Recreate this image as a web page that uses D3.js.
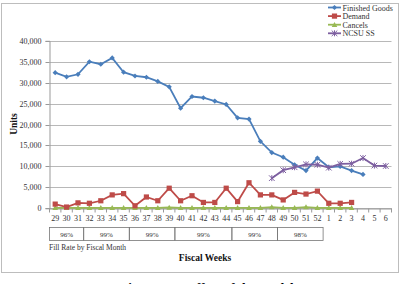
<!DOCTYPE html>
<html><head><meta charset="utf-8">
<script src="https://cdn.jsdelivr.net/npm/d3@7"></script>
<style>
body{margin:0;background:#fff;overflow:hidden}
text{font-family:"Liberation Serif","Times New Roman",serif}
</style></head>
<body><svg id="c" width="401" height="284"></svg>
<script>
const weeks = ["29","30","31","32","33","34","35","36","37","38","39","40","41","42","43","44","45","46","47","48","49","50","51","52","1","2","3","4","5","6"];
const finishedGoods = [32400,31400,32000,35000,34400,35900,32500,31600,31300,30300,29000,23900,26700,26400,25600,24800,21600,21300,16000,13300,12200,10400,9000,12000,9800,10000,9000,8100,null,null];
const demand = [1000,300,1300,1200,1800,3200,3500,600,2700,1800,4800,1800,3000,1400,1400,4800,1600,6100,3200,3200,2000,3800,3400,4100,1200,1200,1400,null,null,null];
const cancels = [100,100,100,100,100,100,100,100,100,100,200,100,100,100,100,100,100,100,100,300,100,100,300,100,100,100,100,null,null,null];
const ncsuSS = [null,null,null,null,null,null,null,null,null,null,null,null,null,null,null,null,null,null,null,7200,9100,9800,10500,10400,9700,10600,10650,12000,10200,10100];
const yTicks = [0,5000,10000,15000,20000,25000,30000,35000,40000];
const fillMonths = [{start:"29",end:"31",rate:"96%"},{start:"32",end:"35",rate:"99%"},{start:"36",end:"39",rate:"99%"},{start:"40",end:"44",rate:"99%"},{start:"45",end:"48",rate:"99%"},{start:"49",end:"52",rate:"98%"}];
const seriesNames = ["Finished Goods","Demand","Cancels","NCSU SS"];
const seriesColors = ["#4A7EBB","#BE4B48","#98B954","#7D5FA0"];

const svg = d3.select("#c");
svg.append("rect").attr("x",1.5).attr("y",3.5).attr("width",397).attr("height",269).attr("fill","#fff").attr("stroke","#bdbdbd").attr("stroke-width",1);

const x = d3.scaleBand().domain(weeks).range([49.5,391.5]);
const y = d3.scaleLinear().domain([0,40000]).range([208.3,40.8]);

// gridlines
svg.append("g").selectAll("line").data(yTicks).join("line")
  .attr("x1",49.5).attr("x2",391.5).attr("y1",d=>Math.round(y(d))+0.5).attr("y2",d=>Math.round(y(d))+0.5)
  .attr("stroke","#a6a6a6").attr("stroke-width",0.8);

// y axis
const ya = svg.append("g").attr("transform","translate(49.5,0)")
  .call(d3.axisLeft(y).tickValues(yTicks).tickFormat(d3.format(",")).tickSize(4).tickPadding(4));
ya.selectAll("text").attr("font-size",8).attr("fill","#333").style("font-family","Liberation Serif");
ya.selectAll("line,path").attr("stroke","#999");
ya.selectAll(".tick").attr("transform",d=>`translate(0,${Math.round(y(d))+0.5})`);

// x axis
const xa = svg.append("g").attr("transform",`translate(0,${Math.round(y(0))+0.5})`)
  .call(d3.axisBottom(x).tickSize(0).tickPadding(7));
xa.selectAll("text").attr("font-size",8).attr("fill","#333").style("font-family","Liberation Serif");
xa.selectAll("path").attr("stroke","#999");
// tick marks between categories
xa.selectAll("line.sep").data(weeks.concat(["end"])).join("line").attr("class","sep")
  .attr("x1",(d,i)=>49.5+i*x.step()).attr("x2",(d,i)=>49.5+i*x.step()).attr("y1",0).attr("y2",4).attr("stroke","#999");

// series
const allSeries = [finishedGoods,demand,cancels,ncsuSS];
const line = d3.line().defined(d=>d.v!=null).x(d=>x(d.w)+x.bandwidth()/2).y(d=>y(d.v));
function marker(g,i,cx,cy,s){
  const c = seriesColors[i];
  if(i===0){g.append("path").attr("d",`M${cx},${cy-2.6}L${cx+2.6},${cy}L${cx},${cy+2.6}L${cx-2.6},${cy}Z`).attr("fill",c);}
  else if(i===1){g.append("rect").attr("x",cx-2.6).attr("y",cy-2.6).attr("width",5.2).attr("height",5.2).attr("fill",c);}
  else if(i===2){g.append("path").attr("d",`M${cx},${cy-2.8}L${cx+2.8},${cy+2.2}L${cx-2.8},${cy+2.2}Z`).attr("fill",c);}
  else {g.append("path").attr("d",`M${cx-2.8},${cy-2.8}L${cx+2.8},${cy+2.8}M${cx+2.8},${cy-2.8}L${cx-2.8},${cy+2.8}M${cx},${cy-3}L${cx},${cy+3}`).attr("stroke",c).attr("stroke-width",1).attr("fill","none");}
}
[2,1,0,3].forEach(i=>{
  const data = weeks.map((w,k)=>({w,v:allSeries[i][k]}));
  const g = svg.append("g");
  g.append("path").datum(data).attr("d",line).attr("fill","none").attr("stroke",seriesColors[i]).attr("stroke-width",1.8);
  data.filter(d=>d.v!=null).forEach(d=>marker(g,i,x(d.w)+x.bandwidth()/2,y(d.v)));
});

// fill-rate table
const tg = svg.append("g");
fillMonths.forEach(m=>{
  const x0 = x(m.start), x1 = x(m.end)+x.step();
  tg.append("rect").attr("x",x0).attr("y",227.5).attr("width",x1-x0).attr("height",13).attr("fill","none").attr("stroke","#777").attr("stroke-width",0.8);
  tg.append("text").attr("x",(x0+x1)/2).attr("y",237).attr("text-anchor","middle").attr("font-size",7).attr("fill","#333").text(m.rate);
});
svg.append("text").attr("x",49).attr("y",250).attr("font-size",7.5).attr("fill","#333").text("Fill Rate by Fiscal Month");
svg.append("text").attr("x",205).attr("y",261).attr("text-anchor","middle").attr("font-size",9.5).attr("font-weight","bold").attr("fill","#111").text("Fiscal Weeks");
svg.append("text").attr("transform","translate(17,124) rotate(-90)").attr("text-anchor","middle").attr("font-size",9.5).attr("font-weight","bold").attr("fill","#111").text("Units");

// legend
const lg = svg.append("g");
seriesNames.forEach((n,i)=>{
  const yy = 7.5 + i*8.6;
  lg.append("line").attr("x1",328).attr("x2",341).attr("y1",yy).attr("y2",yy).attr("stroke",seriesColors[i]).attr("stroke-width",1.8);
  marker(lg,i,334.5,yy);
  lg.append("text").attr("x",342.5).attr("y",yy+3).attr("font-size",8).attr("fill","#333").text(n);
});

// caption (cut off at bottom)
svg.append("text").attr("x",207).attr("y",292).attr("text-anchor","middle").attr("font-size",13).attr("font-weight","bold").attr("fill","#000").text("Figure 4.5 - Effect of the Model");
</script></body></html>
